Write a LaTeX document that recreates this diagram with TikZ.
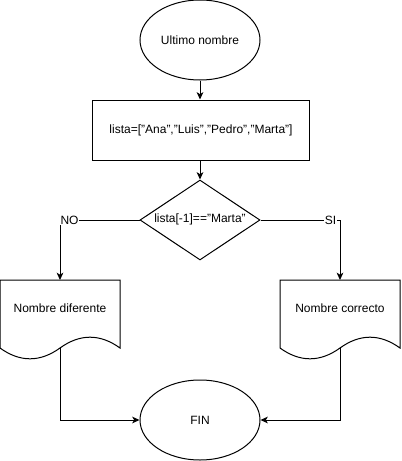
\documentclass[tikz,border=0pt]{standalone}
\usepackage{fontspec}
\setmainfont{Liberation Sans}
\usetikzlibrary{arrows.meta,shapes.geometric}
\begin{document}
\begin{tikzpicture}[x=0.75pt,y=-0.75pt,
  every node/.style={font=\fontsize{9}{11}\selectfont},
  line/.style={draw=black,line width=0.75pt},
  arr/.style={line,-{Stealth[length=5.5pt,width=5pt,inset=1.5pt]}},
  term/.style={ellipse,draw,line width=0.75pt,minimum width=90pt,minimum height=60pt,inner sep=0pt},
  proc/.style={rectangle,draw,line width=0.75pt,minimum width=162.75pt,minimum height=45pt,inner sep=0pt},
  dec/.style={diamond,draw,line width=0.75pt,minimum width=90pt,minimum height=60pt,inner sep=0pt},
  doctext/.style={inner sep=0pt},
  lab/.style={fill=white,inner sep=0.5pt}
]
\useasboundingbox (0,0) rectangle (401,461);
\node[term] (e1) at (200,40) {Ultimo nombre};
\node[proc] (r1) at (201,130) {lista=["Ana","Luis","Pedro","Marta"]};
\node[dec] (d) at (200,220) {};
\node[inner sep=0pt] (dtext) at (200,219) {lista[-1]=="Marta"};
% documents
\draw[line] (0,280) -- (120,280) -- (120,348) .. controls (100,333.6) and (80,333.6) .. (60,348)
  .. controls (40,362.4) and (20,362.4) .. (0,348) -- cycle;
\draw[line] (280,280) -- (400,280) -- (400,348) .. controls (380,333.6) and (360,333.6) .. (340,348)
  .. controls (320,362.4) and (300,362.4) .. (280,348) -- cycle;
\node[doctext] (doc1) at (60,308) {Nombre diferente};
\node[doctext] (doc2) at (340,308) {Nombre correcto};
\coordinate (doc1top) at (60,280);
\coordinate (doc2top) at (340,280);
\coordinate (doc1bot) at (60,348);
\coordinate (doc2bot) at (340,348);
\node[term] (fin) at (200,420) {FIN};
% connectors
\draw[arr] (e1.south) -- (e1.south |- r1.north);
\draw[arr] (d.north |- r1.south) -- (d.north);
\draw[arr] (d.west) -| node[lab,pos=0.44] (no) {NO} (doc1top);
\draw[arr] (d.east) -| node[lab,pos=0.44] (si) {SI} (doc2top);
\draw[arr] (doc1bot) |- (fin.west);
\draw[arr] (doc2bot) |- (fin.east);
\end{tikzpicture}
\end{document}
